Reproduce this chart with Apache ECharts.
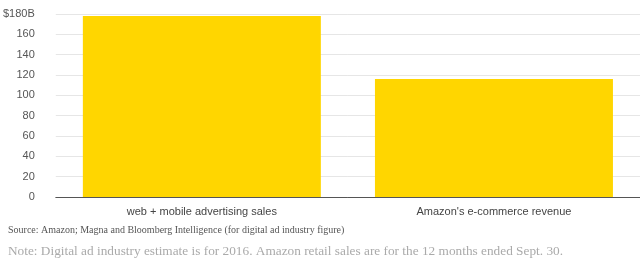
<!DOCTYPE html>
<html>
<head>
<meta charset="utf-8">
<script src="https://cdn.jsdelivr.net/npm/echarts@6/dist/echarts.min.js"></script>
<style>
  html, body { margin: 0; padding: 0; background: #fff; }
  #chart { width: 640px; height: 265px; }
</style>
</head>
<body>
<div id="chart"></div>
<script>
// categories and values (billions of dollars)
var categories = ['web + mobile advertising sales', "Amazon's e-commerce revenue"]
var salesValues = [178, 116]
var yTicks = { min: 0, max: 180, interval: 20 }
var sourceText = 'Source: Amazon; Magna and Bloomberg Intelligence (for digital ad industry figure)'
var noteText = 'Note: Digital ad industry estimate is for 2016. Amazon retail sales are for the 12 months ended Sept. 30.'

var chart = echarts.init(document.getElementById('chart'))
var option = {
  animation: false,
  textStyle: { fontFamily: 'Liberation Sans, Arial, sans-serif' },
  title: [
    {
      text: sourceText,
      left: 8, top: 225, padding: 0,
      textStyle: { fontFamily: 'Liberation Serif, serif', fontSize: 10, fontWeight: 'normal', color: '#555' }
    },
    {
      text: noteText,
      left: 8, top: 245, padding: 0,
      textStyle: { fontFamily: 'Liberation Serif, serif', fontSize: 13.3, fontWeight: 'normal', color: '#aaa' }
    }
  ],
  grid: { left: 55, right: 0, top: 14, bottom: 68 },
  xAxis: {
    type: 'category',
    data: categories,
    axisLine: { lineStyle: { color: '#555', width: 1 } },
    axisTick: { alignWithLabel: true, length: 4, lineStyle: { color: '#555' } },
    axisLabel: { color: '#444', fontSize: 11, margin: 9 }
  },
  yAxis: {
    type: 'value',
    min: yTicks.min,
    max: yTicks.max,
    interval: yTicks.interval,
    axisLine: { show: false },
    axisTick: { show: false },
    splitLine: { lineStyle: { color: '#e6e6e6' } },
    axisLabel: {
      color: '#555',
      fontSize: 11,
      margin: 21,
      formatter: function (v) { return v === yTicks.max ? '$' + v + 'B' : '' + v }
    }
  },
  series: [{
    type: 'bar',
    data: salesValues,
    barWidth: 238,
    itemStyle: { color: '#ffd600' }
  }]
}
chart.setOption(option)
</script>
</body>
</html>
